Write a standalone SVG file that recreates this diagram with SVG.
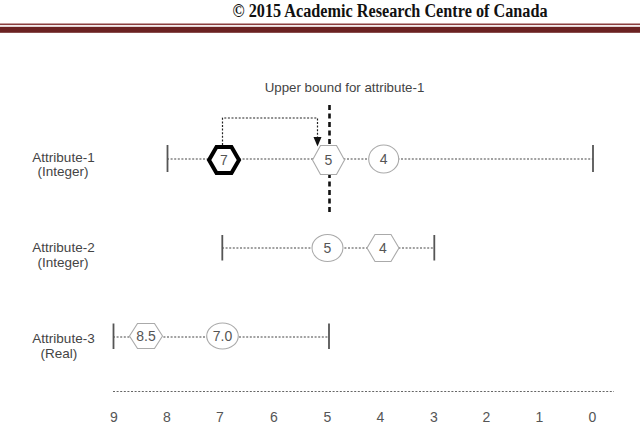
<svg xmlns="http://www.w3.org/2000/svg" width="640" height="429" viewBox="0 0 640 429">
<defs>
<style>
.hdr{font-family:"Liberation Serif",serif;font-weight:bold;font-size:18px;fill:#111}
.lbl{font-family:"Liberation Sans",Arial,sans-serif;font-size:13.5px;fill:#444;text-anchor:middle}
.nt{font-family:"Liberation Sans",Arial,sans-serif;font-size:14px;fill:#555;text-anchor:middle}
.ax{font-family:"Liberation Sans",Arial,sans-serif;font-size:14px;fill:#555;text-anchor:middle}
.dot{stroke:#444;stroke-width:1.2;stroke-dasharray:2 1.6;fill:none}
.tick{stroke:#555;stroke-width:1.8}
.node{fill:#fff;stroke:#aaa;stroke-width:1.1}
.bold{fill:#fff;stroke:#000;stroke-width:4;stroke-linejoin:miter}
</style>
</defs>
<rect width="640" height="429" fill="#fff"/>
<g id="header">
<text class="hdr" x="390" y="17" text-anchor="middle" textLength="315" lengthAdjust="spacingAndGlyphs">© 2015 Academic Research Centre of Canada</text>
<rect x="0" y="23.5" width="640" height="1.6" fill="#8a3d3d"/>
<rect x="0" y="26.8" width="640" height="6" fill="#6b2222"/>
</g>
<g id="labels">
<text class="lbl" x="63.5" y="161.5">Attribute-1</text>
<text class="lbl" x="63" y="176">(Integer)</text>
<text class="lbl" x="63.5" y="252">Attribute-2</text>
<text class="lbl" x="63" y="266.5">(Integer)</text>
<text class="lbl" x="63.5" y="342.5">Attribute-3</text>
<text class="lbl" x="59" y="357.5">(Real)</text>
<text class="lbl" x="344.5" y="91.5" style="font-size:13.3px">Upper bound for attribute-1</text>
</g>
<g id="connectors">
<line class="dot" x1="167" y1="159" x2="593" y2="159"/>
<line class="dot" x1="222" y1="248" x2="434" y2="248"/>
<line class="dot" x1="113" y1="337" x2="329" y2="337"/>
<line class="dot" x1="113" y1="391.5" x2="614" y2="391.5" style="stroke:#666"/>
<line x1="329.5" y1="105" x2="329.5" y2="212" stroke="#111" stroke-width="2.6" stroke-dasharray="5 3.5"/>
<polyline class="dot" points="222.5,145 222.5,118 317.5,118 317.5,138" style="stroke:#222"/>
<polygon points="313.5,137 321.5,137 317.5,146.5" fill="#111"/>
<line class="tick" x1="167.5" y1="145" x2="167.5" y2="172"/>
<line class="tick" x1="593" y1="145" x2="593" y2="172"/>
<line class="tick" x1="222.3" y1="235" x2="222.3" y2="260.5"/>
<line class="tick" x1="434.3" y1="235" x2="434.3" y2="260.5"/>
<line class="tick" x1="113.5" y1="323.5" x2="113.5" y2="349"/>
<line class="tick" x1="329" y1="323.5" x2="329" y2="349"/>
</g>
<g id="node-a1-7">
<polygon class="bold" points="209,160 216.5,147 231.5,147 239,160 231.5,173 216.5,173"/>
<text class="nt" x="224" y="165">7</text>
</g>
<g id="node-a1-5">
<polygon class="node" points="312.5,160 320.5,145.5 336.5,145.5 344.5,160 336.5,174.5 320.5,174.5"/>
<text class="nt" x="328.5" y="165">5</text>
</g>
<g id="node-a1-4">
<ellipse class="node" cx="383.7" cy="159" rx="15" ry="14"/>
<text class="nt" x="383.7" y="164">4</text>
</g>
<g id="node-a2-5">
<ellipse class="node" cx="327.5" cy="248" rx="15.5" ry="13.5"/>
<text class="nt" x="327.5" y="253">5</text>
</g>
<g id="node-a2-4">
<polygon class="node" points="367,248 375,234.5 391,234.5 399,248 391,261.5 375,261.5"/>
<text class="nt" x="383" y="253">4</text>
</g>
<g id="node-a3-85">
<polygon class="node" points="129.5,336 137.5,323.5 154.5,323.5 162.5,336 154.5,348.5 137.5,348.5"/>
<text class="nt" x="146" y="341">8.5</text>
</g>
<g id="node-a3-70">
<ellipse class="node" cx="222.5" cy="336" rx="15.8" ry="13"/>
<text class="nt" x="222.5" y="341">7.0</text>
</g>
<g id="axis">
<text class="ax" x="114" y="421.5">9</text>
<text class="ax" x="167" y="421.5">8</text>
<text class="ax" x="220" y="421.5">7</text>
<text class="ax" x="274" y="421.5">6</text>
<text class="ax" x="327.5" y="421.5">5</text>
<text class="ax" x="380.5" y="421.5">4</text>
<text class="ax" x="434" y="421.5">3</text>
<text class="ax" x="486.5" y="421.5">2</text>
<text class="ax" x="539.5" y="421.5">1</text>
<text class="ax" x="592.5" y="421.5">0</text>
</g>
</svg>
